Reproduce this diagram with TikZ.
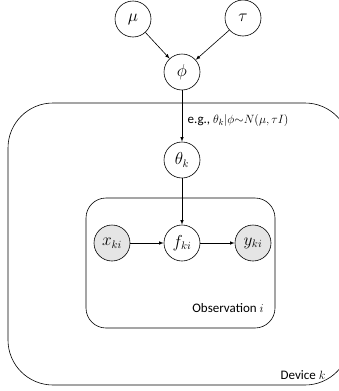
\documentclass[tikz,border=0pt]{standalone}
\usepackage{fontspec}
\setmainfont{Carlito}
\usetikzlibrary{arrows}

\begin{document}
\begin{tikzpicture}[x=1pt, y=-1pt, line width=0.6pt, font=\fontsize{13}{15}\selectfont,
		var/.style={circle, draw, minimum size=36pt, inner sep=0pt, font=\fontsize{16}{18}\selectfont},
		obs/.style={var, fill=black!10}]
			\useasboundingbox (0,0) rectangle (339,391);
			\clip (0,0) rectangle (339,391);

			\draw [rounded corners=45pt] (8,103) rectangle (350,385);
			\draw [rounded corners=20pt] (86,198) rectangle (275,328);

			\node (mu)[var] at (133,19) {$ \mu $};
			\node (tau)[var] at (243,18) {$ \tau $};
			\node (phi)[var] at (182,72) {$ \phi $};
			\node (theta)[var] at (182,160) {$ \theta_k $};
			\node (x)[obs] at (112,243) {$ x_{ki} $};
			\node (f)[var] at (182,243) {$ f_{ki} $};
			\node (y)[obs] at (253,243) {$ y_{ki} $};

			\draw [-latex](mu)to(phi);
			\draw [-latex](tau)to(phi);
			\draw [-latex](phi)to node[midway, right, xshift=2pt, yshift=-4pt]{e.g., $ \theta_k|\phi{\sim}N(\mu,\tau I) $}(theta);
			\draw [-latex](theta)to(f);
			\draw [-latex](x)to(f);
			\draw [-latex](f)to(y);

			\node (obslabel) at (228,308) {Observation $ i $};
			\node (devlabel) at (303,375) {Device $ k $};
		\end{tikzpicture}
\end{document}
